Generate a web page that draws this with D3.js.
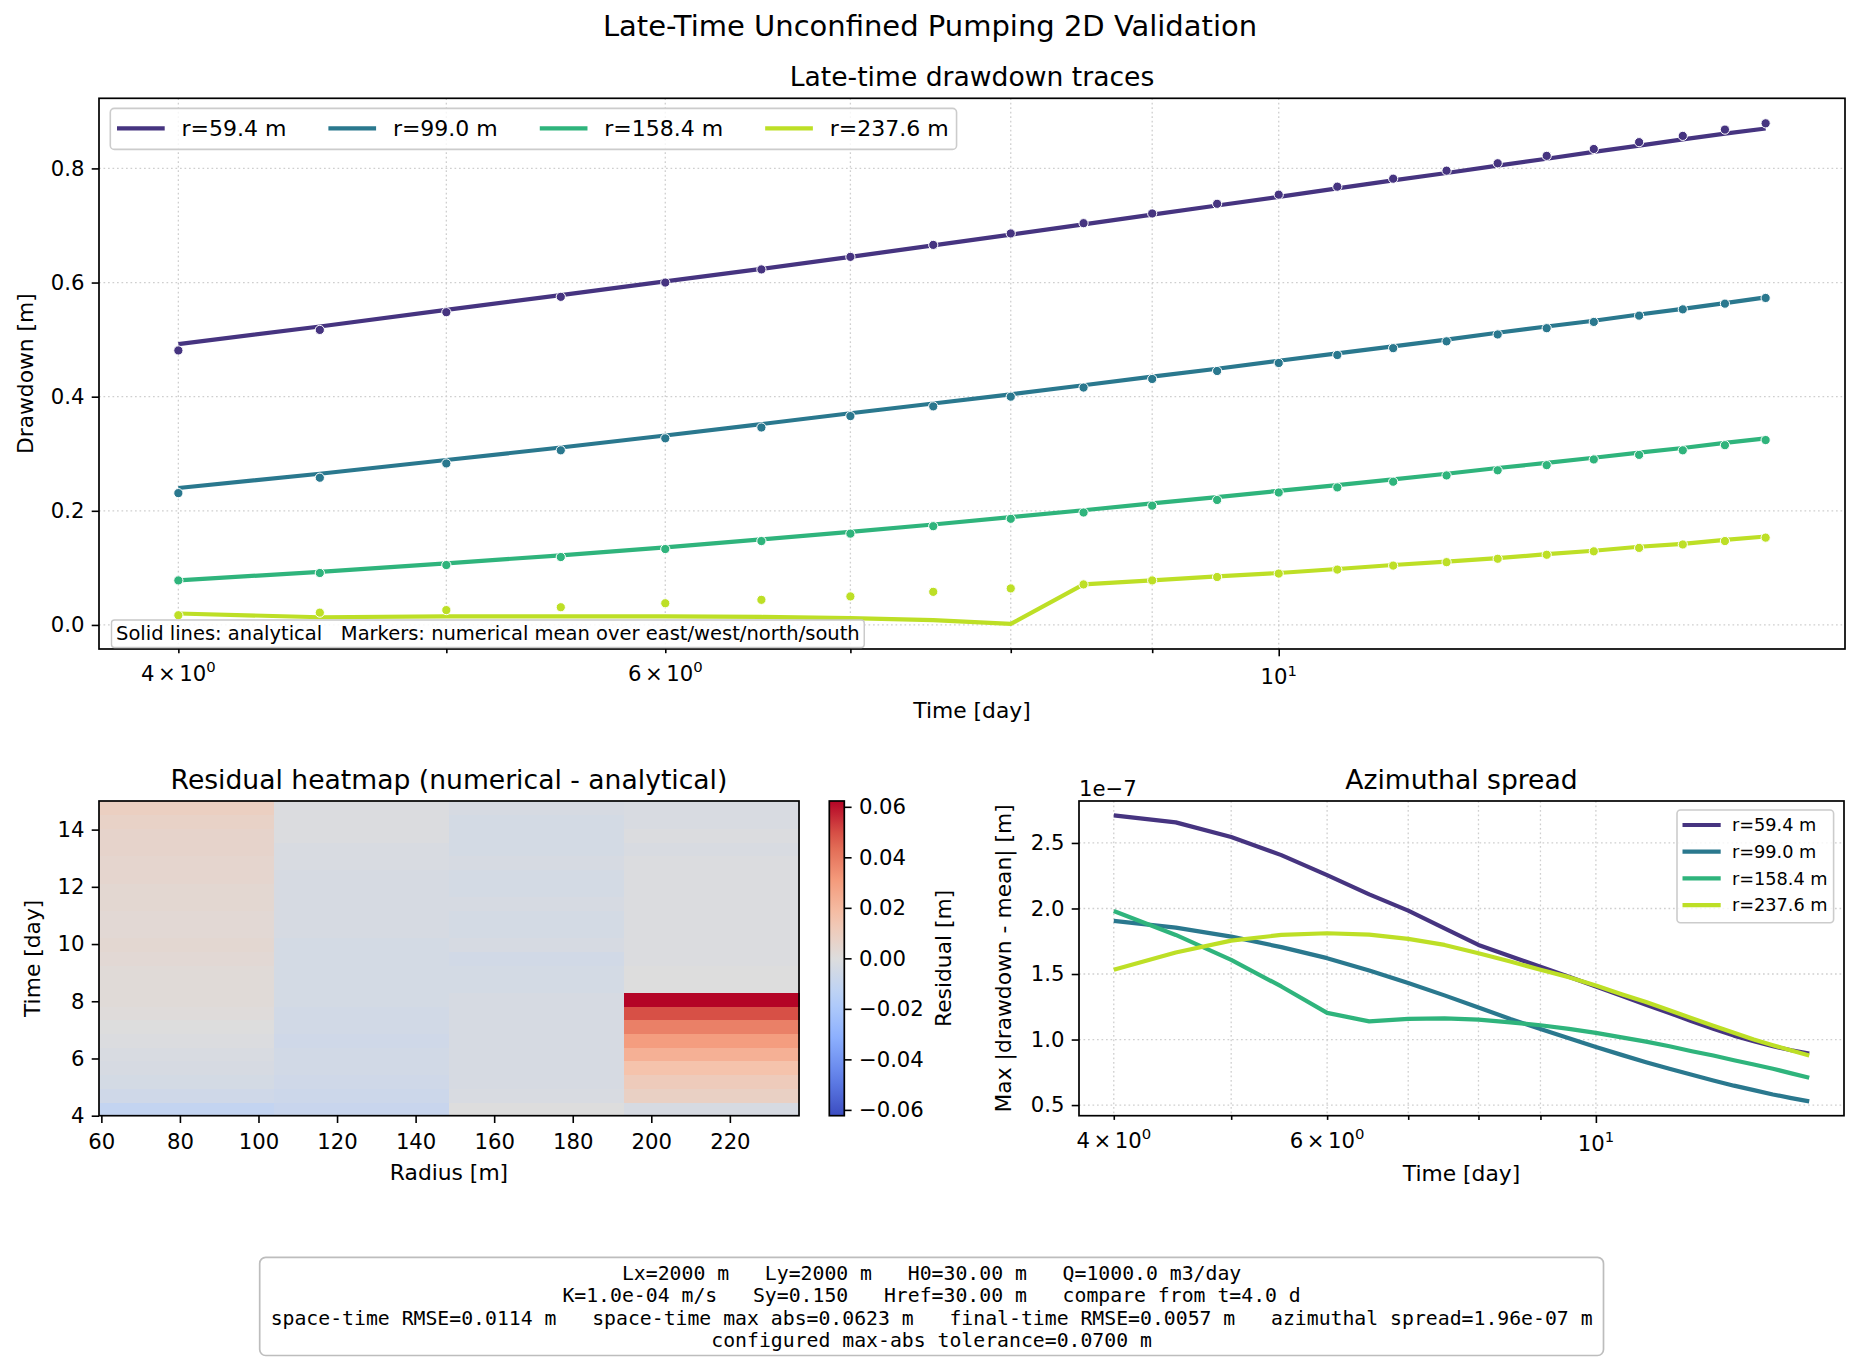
<!DOCTYPE html>
<html>
<head>
<meta charset="utf-8">
<title>Late-Time Unconfined Pumping 2D Validation</title>
<script src="https://cdn.jsdelivr.net/npm/d3@7"></script>
<style>
  body { margin: 0; background: #fff; }
  text { font-family: "DejaVu Sans", sans-serif; fill: #000; }
  .mono { font-family: "DejaVu Sans Mono", monospace; white-space: pre; }
</style>
</head>
<body>
<div id="chart"></div>
<script>
// sample times [day] and observation radii [m]
const times = [4, 4.5, 5, 5.5, 6, 6.5, 7, 7.5, 8, 8.5, 9, 9.5, 10, 10.5, 11, 11.5, 12, 12.5, 13, 13.5, 14, 14.5, 15];
const radii = [59.4, 99.0, 158.4, 237.6];
const radiusLabels = ["r=59.4 m", "r=99.0 m", "r=158.4 m", "r=237.6 m"];

// analytical drawdown [m]
const analyticalR59 = [0.492, 0.523, 0.552, 0.578, 0.602, 0.624, 0.645, 0.665, 0.684, 0.702, 0.719, 0.735, 0.750, 0.765, 0.779, 0.792, 0.805, 0.817, 0.829, 0.840, 0.851, 0.861, 0.870];
const analyticalR99 = [0.240, 0.265, 0.289, 0.311, 0.332, 0.352, 0.371, 0.388, 0.404, 0.420, 0.435, 0.449, 0.463, 0.476, 0.488, 0.500, 0.512, 0.523, 0.533, 0.544, 0.554, 0.564, 0.574];
const analyticalR158 = [0.078, 0.093, 0.108, 0.122, 0.136, 0.150, 0.163, 0.176, 0.189, 0.201, 0.213, 0.224, 0.235, 0.245, 0.255, 0.265, 0.275, 0.284, 0.293, 0.302, 0.310, 0.319, 0.327];
const analyticalR238 = [0.020, 0.0135, 0.015, 0.015, 0.015, 0.014, 0.012, 0.0085, 0.0017, 0.071, 0.078, 0.085, 0.091, 0.098, 0.105, 0.111, 0.117, 0.124, 0.130, 0.137, 0.142, 0.149, 0.155];

// numerical mean over east/west/north/south [m]
const numericalR59 = [0.481, 0.517, 0.548, 0.575, 0.600, 0.623, 0.645, 0.666, 0.686, 0.704, 0.721, 0.738, 0.754, 0.768, 0.782, 0.796, 0.809, 0.822, 0.834, 0.846, 0.857, 0.868, 0.879];
const numericalR99 = [0.231, 0.258, 0.283, 0.306, 0.327, 0.346, 0.366, 0.383, 0.400, 0.416, 0.431, 0.445, 0.459, 0.473, 0.485, 0.497, 0.509, 0.520, 0.531, 0.542, 0.553, 0.563, 0.573];
const numericalR158 = [0.078, 0.091, 0.105, 0.119, 0.133, 0.147, 0.160, 0.173, 0.186, 0.197, 0.209, 0.219, 0.232, 0.241, 0.251, 0.262, 0.271, 0.280, 0.290, 0.298, 0.306, 0.315, 0.324];
const numericalR238 = [0.017, 0.0215, 0.026, 0.031, 0.038, 0.044, 0.050, 0.058, 0.064, 0.071, 0.078, 0.084, 0.090, 0.097, 0.104, 0.110, 0.116, 0.123, 0.129, 0.135, 0.141, 0.147, 0.153];

// max |drawdown - mean| over the four directions, in units of 1e-7 m
const spreadR59 = [2.711, 2.657, 2.546, 2.407, 2.254, 2.108, 1.984, 1.849, 1.722, 1.636, 1.555, 1.479, 1.405, 1.334, 1.266, 1.203, 1.139, 1.083, 1.030, 0.987, 0.949, 0.918, 0.893];
const spreadR99 = [1.905, 1.854, 1.785, 1.705, 1.621, 1.527, 1.431, 1.337, 1.245, 1.157, 1.081, 1.010, 0.944, 0.883, 0.827, 0.777, 0.731, 0.688, 0.648, 0.614, 0.581, 0.553, 0.528];
const spreadR158 = [1.981, 1.798, 1.608, 1.405, 1.203, 1.139, 1.157, 1.162, 1.152, 1.131, 1.109, 1.081, 1.051, 1.017, 0.984, 0.949, 0.911, 0.878, 0.842, 0.810, 0.777, 0.742, 0.708];
const spreadR238 = [1.532, 1.664, 1.755, 1.798, 1.811, 1.800, 1.768, 1.722, 1.659, 1.595, 1.532, 1.476, 1.413, 1.346, 1.286, 1.224, 1.162, 1.106, 1.051, 1.000, 0.957, 0.916, 0.878];

// tick values / labels
const drawdownTicks = [0, 0.2, 0.4, 0.6, 0.8];
const logMinorTicks = [4, 5, 6, 7, 8, 9];
const logMajorTicks = [10];
const logLabels = [[4, "4", "0"], [6, "6", "0"], [10, null, "1"]];
const radiusTicks = [60, 80, 100, 120, 140, 160, 180, 200, 220];
const timeTicks = [4, 6, 8, 10, 12, 14];
const residualTicks = [-0.06, -0.04, -0.02, 0, 0.02, 0.04, 0.06];
const spreadTicks = [0.5, 1.0, 1.5, 2.0, 2.5];

const infoLines = [
  "Lx=2000 m   Ly=2000 m   H0=30.00 m   Q=1000.0 m3/day",
  "K=1.0e-04 m/s   Sy=0.150   Href=30.00 m   compare from t=4.0 d",
  "space-time RMSE=0.0114 m   space-time max abs=0.0623 m   final-time RMSE=0.0057 m   azimuthal spread=1.96e-07 m",
  "configured max-abs tolerance=0.0700 m"
];

const analytical = [analyticalR59, analyticalR99, analyticalR158, analyticalR238];
const numerical = [numericalR59, numericalR99, numericalR158, numericalR238];
const spread = [spreadR59, spreadR99, spreadR158, spreadR238];
const colors = [0.15, 0.4, 0.65, 0.9].map(d3.interpolateViridis);

const W = 1860, H = 1366;
const FS = 21.2;            // tick labels
const FS_LABEL = 21.8;
const FS_TITLE = 26.6;
const TICK = 7.3, MINOR = 4.2, PAD = 7.3;

const topBox = { x0: 99, x1: 1845, y0: 98.3, y1: 649 };
const heatBox = { x0: 99, x1: 799, y0: 801, y1: 1115.7 };
const cbarBox = { x0: 829.3, x1: 844.3, y0: 801, y1: 1115.7 };
const azBox = { x0: 1079, x1: 1844, y0: 801, y1: 1115.7 };

var svg = d3.select("#chart").append("svg")
  .attr("width", W).attr("height", H)
  .attr("font-family", "DejaVu Sans");
svg.append("rect").attr("width", W).attr("height", H).attr("fill", "#fff");

function logPad(ext) {
  var a = Math.log10(ext[0]), b = Math.log10(ext[1]), p = (b - a) * 0.05;
  return [Math.pow(10, a - p), Math.pow(10, b + p)];
}
function linPad(ext) {
  var p = (ext[1] - ext[0]) * 0.05;
  return [ext[0] - p, ext[1] + p];
}

function cleanAxis(g) {
  g.select(".domain").remove();
  g.attr("font-family", null).attr("font-size", FS);
  g.selectAll(".tick line").attr("stroke", "#000").attr("stroke-width", 1.6);
  g.selectAll(".tick text").attr("fill", "#000");
}

function frame(box) {
  svg.append("rect")
    .attr("x", box.x0).attr("y", box.y0)
    .attr("width", box.x1 - box.x0).attr("height", box.y1 - box.y0)
    .attr("fill", "none").attr("stroke", "#000").attr("stroke-width", 1.7);
}

function grid(x, y, xs, ys, box) {
  var g = svg.append("g")
    .attr("stroke", "#cfcfcf").attr("stroke-width", 1.3)
    .attr("stroke-dasharray", "1.7,2.8");
  g.selectAll(".gx").data(xs).enter().append("line")
    .attr("x1", d => x(d)).attr("x2", d => x(d))
    .attr("y1", box.y0).attr("y2", box.y1);
  g.selectAll(".gy").data(ys).enter().append("line")
    .attr("y1", d => y(d)).attr("y2", d => y(d))
    .attr("x1", box.x0).attr("x2", box.x1);
}

// log time axis with matplotlib style "4 x 10^0" labels
function logAxis(x, y0) {
  svg.append("g").attr("transform", "translate(0," + y0 + ")")
    .call(d3.axisBottom(x).tickValues(logMinorTicks).tickSize(MINOR).tickFormat(""))
    .call(cleanAxis);
  svg.append("g").attr("transform", "translate(0," + y0 + ")")
    .call(d3.axisBottom(x).tickValues(logMajorTicks).tickSize(TICK).tickFormat(""))
    .call(cleanAxis);
  logLabels.forEach(function (l) {
    var major = logMajorTicks.indexOf(l[0]) >= 0;
    var t = svg.append("text")
      .attr("x", x(l[0]))
      .attr("y", y0 + (major ? TICK : MINOR) + PAD + 20.3)
      .attr("text-anchor", "middle")
      .attr("font-size", FS);
    if (l[1]) {
      t.append("tspan").text(l[1]);
      t.append("tspan").attr("dx", 3.5).text("×");
      t.append("tspan").attr("dx", 3.5).text("10");
    } else {
      t.append("tspan").text("10");
    }
    t.append("tspan").attr("dy", -8.4).attr("font-size", FS * 0.7).text(l[2]);
  });
}

function title(txt, x, y, size) {
  svg.append("text").attr("x", x).attr("y", y)
    .attr("text-anchor", "middle").attr("font-size", size).text(txt);
}

function ylabel(txt, x, y) {
  svg.append("text")
    .attr("transform", "translate(" + x + "," + y + ") rotate(-90)")
    .attr("text-anchor", "middle").attr("font-size", FS_LABEL).text(txt);
}

title("Late-Time Unconfined Pumping 2D Validation", 930, 36, 29);

// ---------- top: drawdown traces ----------
var xTop = d3.scaleLog().domain(logPad(d3.extent(times))).range([topBox.x0, topBox.x1]);
var allDraw = analytical.flat().concat(numerical.flat());
var yTop = d3.scaleLinear().domain(linPad(d3.extent(allDraw))).range([topBox.y1, topBox.y0]);

grid(xTop, yTop, logMinorTicks.concat(logMajorTicks), drawdownTicks, topBox);

var topLine = d3.line().x((d, i) => xTop(times[i])).y(d => yTop(d));

radii.forEach(function (r, k) {
  svg.append("path").datum(analytical[k])
    .attr("d", topLine)
    .attr("fill", "none").attr("stroke", colors[k])
    .attr("stroke-width", 4.2).attr("stroke-linejoin", "round");
  svg.append("g").selectAll("circle").data(numerical[k]).enter().append("circle")
    .attr("cx", (d, i) => xTop(times[i])).attr("cy", d => yTop(d))
    .attr("r", 4.6).attr("fill", colors[k])
    .attr("stroke", "#fff").attr("stroke-width", 1);
});

svg.append("g").attr("transform", "translate(" + topBox.x0 + ",0)")
  .call(d3.axisLeft(yTop).tickValues(drawdownTicks).tickFormat(d3.format(".1f"))
    .tickSize(TICK).tickPadding(PAD))
  .call(cleanAxis);
logAxis(xTop, topBox.y1);
frame(topBox);

title("Late-time drawdown traces", (topBox.x0 + topBox.x1) / 2, topBox.y0 - 12.5, FS_TITLE);
title("Time [day]", (topBox.x0 + topBox.x1) / 2, 718, FS_LABEL);
ylabel("Drawdown [m]", 33, (topBox.y0 + topBox.y1) / 2);

// legend (one row)
var leg = svg.append("g");
var legBg = leg.append("rect");
var lx = 117, ly = 128.3;
radiusLabels.forEach(function (lab, k) {
  leg.append("line").attr("x1", lx).attr("x2", lx + 47.7)
    .attr("y1", ly).attr("y2", ly)
    .attr("stroke", colors[k]).attr("stroke-width", 4.2);
  var t = leg.append("text").attr("x", lx + 64.5).attr("y", ly + 7.8)
    .attr("font-size", 22).text(lab);
  lx = lx + 64.5 + t.node().getComputedTextLength() + 42;
});
legBg.attr("x", 110.3).attr("y", 108.4)
  .attr("width", lx - 42 - 110.3 + 8).attr("height", 41)
  .attr("rx", 4).attr("fill", "#fff").attr("fill-opacity", 0.8)
  .attr("stroke", "#cccccc").attr("stroke-width", 1.6);

// note box
var note = svg.append("g");
var noteBg = note.append("rect");
var noteT = note.append("text").attr("x", 116).attr("y", 640)
  .attr("font-size", 19.5)
  .style("white-space", "pre")
  .text("Solid lines: analytical   Markers: numerical mean over east/west/north/south");
var nb = noteT.node().getBBox();
noteBg.attr("x", nb.x - 4.5).attr("y", 620).attr("width", nb.width + 9).attr("height", 27.5)
  .attr("rx", 3).attr("fill", "#fff").attr("fill-opacity", 0.85)
  .attr("stroke", "#c8c8c8").attr("stroke-width", 1.4);

// ---------- residual heatmap ----------
var residual = radii.map((r, k) => numerical[k].map((v, i) => v - analytical[k][i]));
var vmax = d3.max(residual.flat(), d => Math.abs(d));

var coolwarm = d3.piecewise(d3.interpolateRgb, [
  "#3b4cc0", "#6282ea", "#8db0fe", "#b8d0f9", "#dddddd",
  "#f5c4ad", "#f49a7b", "#de604d", "#b40426"
]);
var cScale = d3.scaleLinear().domain([-vmax, vmax]).range([0, 1]).clamp(true);

var rExt = d3.extent(radii), tExt = d3.extent(times);
var xHeat = d3.scaleLinear().domain(rExt).range([heatBox.x0, heatBox.x1]);
var yHeat = d3.scaleLinear().domain(tExt).range([heatBox.y1, heatBox.y0]);
var dr = (rExt[1] - rExt[0]) / radii.length;
var dt = (tExt[1] - tExt[0]) / times.length;

var cells = [];
residual.forEach(function (col, k) {
  col.forEach(function (v, i) { cells.push({ k: k, i: i, v: v }); });
});
svg.append("g").selectAll("rect").data(cells).enter().append("rect")
  .attr("x", d => xHeat(rExt[0] + d.k * dr))
  .attr("width", d => xHeat(rExt[0] + (d.k + 1) * dr) - xHeat(rExt[0] + d.k * dr) + 0.5)
  .attr("y", d => yHeat(tExt[0] + (d.i + 1) * dt))
  .attr("height", d => yHeat(tExt[0] + d.i * dt) - yHeat(tExt[0] + (d.i + 1) * dt) + 0.5)
  .attr("fill", d => coolwarm(cScale(d.v)))
  .attr("shape-rendering", "crispEdges");

svg.append("g").attr("transform", "translate(0," + heatBox.y1 + ")")
  .call(d3.axisBottom(xHeat).tickValues(radiusTicks).tickFormat(d3.format("d"))
    .tickSize(TICK).tickPadding(11))
  .call(cleanAxis);
svg.append("g").attr("transform", "translate(" + heatBox.x0 + ",0)")
  .call(d3.axisLeft(yHeat).tickValues(timeTicks).tickFormat(d3.format("d"))
    .tickSize(TICK).tickPadding(PAD))
  .call(cleanAxis);
frame(heatBox);
title("Residual heatmap (numerical - analytical)", (heatBox.x0 + heatBox.x1) / 2, heatBox.y0 - 12.5, FS_TITLE);
title("Radius [m]", (heatBox.x0 + heatBox.x1) / 2, 1180, FS_LABEL);
ylabel("Time [day]", 40, (heatBox.y0 + heatBox.y1) / 2);

// colorbar
var grad = svg.append("defs").append("linearGradient")
  .attr("id", "cw").attr("x1", 0).attr("x2", 0).attr("y1", 1).attr("y2", 0);
d3.range(0, 1.0001, 0.05).forEach(function (s) {
  grad.append("stop").attr("offset", s).attr("stop-color", coolwarm(s));
});
svg.append("rect").attr("x", cbarBox.x0).attr("y", cbarBox.y0)
  .attr("width", cbarBox.x1 - cbarBox.x0).attr("height", cbarBox.y1 - cbarBox.y0)
  .attr("fill", "url(#cw)");
var yCb = d3.scaleLinear().domain([-vmax, vmax]).range([cbarBox.y1, cbarBox.y0]);
svg.append("g").attr("transform", "translate(" + cbarBox.x1 + ",0)")
  .call(d3.axisRight(yCb).tickValues(residualTicks).tickFormat(d3.format(".2f"))
    .tickSize(TICK).tickPadding(PAD))
  .call(cleanAxis);
frame(cbarBox);
svg.append("text")
  .attr("transform", "translate(951," + (cbarBox.y0 + cbarBox.y1) / 2 + ") rotate(-90)")
  .attr("text-anchor", "middle").attr("font-size", FS_LABEL).text("Residual [m]");

// ---------- azimuthal spread ----------
var xAz = d3.scaleLog().domain(logPad(d3.extent(times))).range([azBox.x0, azBox.x1]);
var yAz = d3.scaleLinear().domain(linPad(d3.extent(spread.flat()))).range([azBox.y1, azBox.y0]);

grid(xAz, yAz, logMinorTicks.concat(logMajorTicks), spreadTicks, azBox);

var azLine = d3.line().x((d, i) => xAz(times[i])).y(d => yAz(d));
radii.forEach(function (r, k) {
  svg.append("path").datum(spread[k])
    .attr("d", azLine)
    .attr("fill", "none").attr("stroke", colors[k])
    .attr("stroke-width", 4.2).attr("stroke-linejoin", "round");
});

svg.append("g").attr("transform", "translate(" + azBox.x0 + ",0)")
  .call(d3.axisLeft(yAz).tickValues(spreadTicks).tickFormat(d3.format(".1f"))
    .tickSize(TICK).tickPadding(PAD))
  .call(cleanAxis);
logAxis(xAz, azBox.y1);
frame(azBox);
svg.append("text").attr("x", azBox.x0).attr("y", 796).attr("font-size", FS).text("1e\u22127");
title("Azimuthal spread", (azBox.x0 + azBox.x1) / 2, azBox.y0 - 12.5, FS_TITLE);
title("Time [day]", (azBox.x0 + azBox.x1) / 2, 1181, FS_LABEL);
ylabel("Max |drawdown - mean| [m]", 1011, (azBox.y0 + azBox.y1) / 2);

// legend (column)
var azLeg = svg.append("g");
var azBg = azLeg.append("rect");
var maxW = 0;
radiusLabels.forEach(function (lab, k) {
  var yy = 825 + k * 26.7;
  azLeg.append("line").attr("x1", 1682.5).attr("x2", 1720.7)
    .attr("y1", yy).attr("y2", yy)
    .attr("stroke", colors[k]).attr("stroke-width", 4.2);
  var t = azLeg.append("text").attr("x", 1732).attr("y", yy + 6.3)
    .attr("font-size", 17.7).text(lab);
  maxW = Math.max(maxW, t.node().getComputedTextLength());
});
azBg.attr("x", 1677).attr("y", 810).attr("width", 1732 + maxW + 6 - 1677).attr("height", 112.7)
  .attr("rx", 3.5).attr("fill", "#fff").attr("fill-opacity", 0.8)
  .attr("stroke", "#cccccc").attr("stroke-width", 1.6);

// ---------- parameter box ----------
var info = svg.append("g");
var infoBg = info.append("rect");
infoLines.forEach(function (s, i) {
  info.append("text").attr("class", "mono")
    .attr("x", 931.6).attr("y", 1279.5 + i * 22.5)
    .attr("text-anchor", "middle").attr("font-size", 19.8)
    .text(s);
});
infoBg.attr("x", 259.7).attr("y", 1257.4).attr("width", 1343.8).attr("height", 98.1)
  .attr("rx", 6).attr("fill", "#fff")
  .attr("stroke", "#bdbdbd").attr("stroke-width", 1.7);
</script>
</body>
</html>
